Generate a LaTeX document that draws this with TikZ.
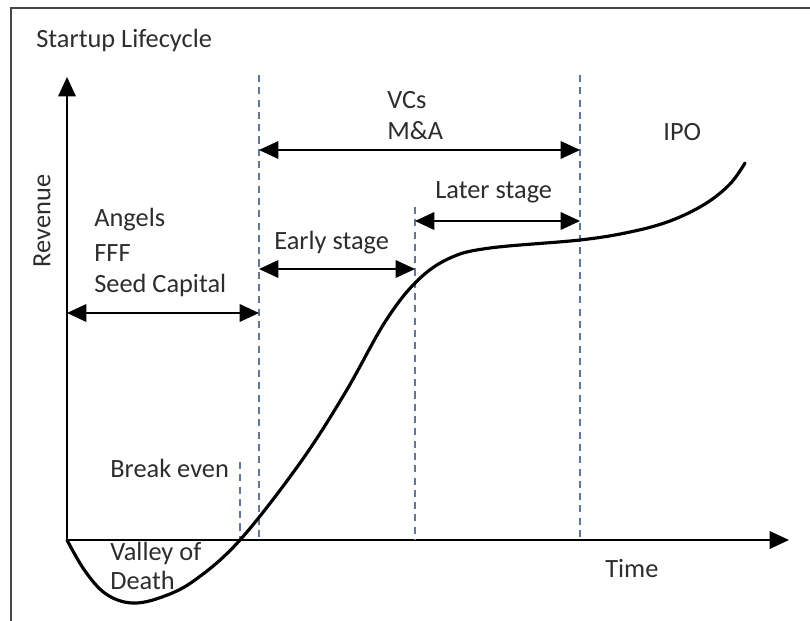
\documentclass[tikz,border=0pt]{standalone}
\usepackage{fontspec}
\setmainfont{Carlito}
\usetikzlibrary{arrows.meta}
\definecolor{txt}{RGB}{45,45,45}
\definecolor{guide}{RGB}{95,120,160}
\definecolor{framec}{RGB}{70,70,70}
\tikzset{
  lbl/.style={anchor=west, inner sep=0pt, text=txt, font=\fontsize{15}{18}\selectfont},
  axis/.style={line width=0.9pt, -{Triangle[length=11pt,width=10pt]}},
  span/.style={line width=0.9pt, {Triangle[length=11pt,width=10pt]}-{Triangle[length=11pt,width=10pt]}},
  guideline/.style={guide, line width=0.6pt, dash pattern=on 4pt off 3pt},
  curve/.style={line width=1.8pt, line cap=round}
}
\begin{document}
\begin{tikzpicture}[x=0.02cm, y=-0.02cm]
\useasboundingbox (0,0) rectangle (810,621);
% frame (left and top edges)
\draw[framec, line width=1pt] (11,621) -- (11,8) -- (810,8);

% axes
\coordinate (O) at (67,540);
\coordinate (ytop) at (67,77);
\coordinate (xend) at (789,540);
\draw[axis] (O) -- (ytop);
\draw[axis] (O) -- (xend);

% stage boundaries
\coordinate (g1t) at (259,75);   \coordinate (g1b) at (259,540);
\coordinate (g2t) at (415,207);  \coordinate (g2b) at (415,540);
\coordinate (g3t) at (580,75);   \coordinate (g3b) at (580,540);
\coordinate (bet) at (240,462);  \coordinate (beb) at (240,540);
\draw[guideline] (g1t) -- (g1b);
\draw[guideline] (g2t) -- (g2b);
\draw[guideline] (g3t) -- (g3b);
\draw[guideline] (bet) -- (beb);

% funding spans
\coordinate (a1) at (67,313);  \coordinate (a2) at (259,313);
\coordinate (e1) at (259,269); \coordinate (e2) at (415,269);
\coordinate (l1) at (415,221); \coordinate (l2) at (580,221);
\coordinate (v1) at (259,150); \coordinate (v2) at (580,150);
\draw[span] (a1) -- (a2);
\draw[span] (e1) -- (e2);
\draw[span] (l1) -- (l2);
\draw[span] (v1) -- (v2);

% revenue curve
\draw[curve] plot[smooth, tension=0.6] coordinates {
  (67,540) (85,571) (106,594) (132,603) (162,597) (195,580)
  (240,540) (300,463) (345,393) (385,322) (417,281) (450,258)
  (490,248) (580,240) (630,232) (670,221) (705,204) (730,184) (745,163)};

% labels
\node[lbl] (title) at (36,40) {Startup Lifecycle};
\node[lbl, anchor=center, rotate=90] (rev) at (42,221) {Revenue};
\node[lbl] (ang) at (94,220) {Angels};
\node[lbl] (fff) at (94,253) {FFF};
\node[lbl] (seed) at (94,285) {Seed Capital};
\node[lbl] (vcs) at (387,100) {VCs};
\node[lbl] (ma) at (387,131) {M\&A};
\node[lbl] (ipo) at (663,132) {IPO};
\node[lbl] (later) at (435,192) {Later stage};
\node[lbl] (early) at (274,243) {Early stage};
\node[lbl] (be) at (110,468) {Break even};
\node[lbl] (val) at (110,553) {Valley of};
\node[lbl] (death) at (110,580) {Death};
\node[lbl] (time) at (605,569) {Time};
\end{tikzpicture}
\end{document}
